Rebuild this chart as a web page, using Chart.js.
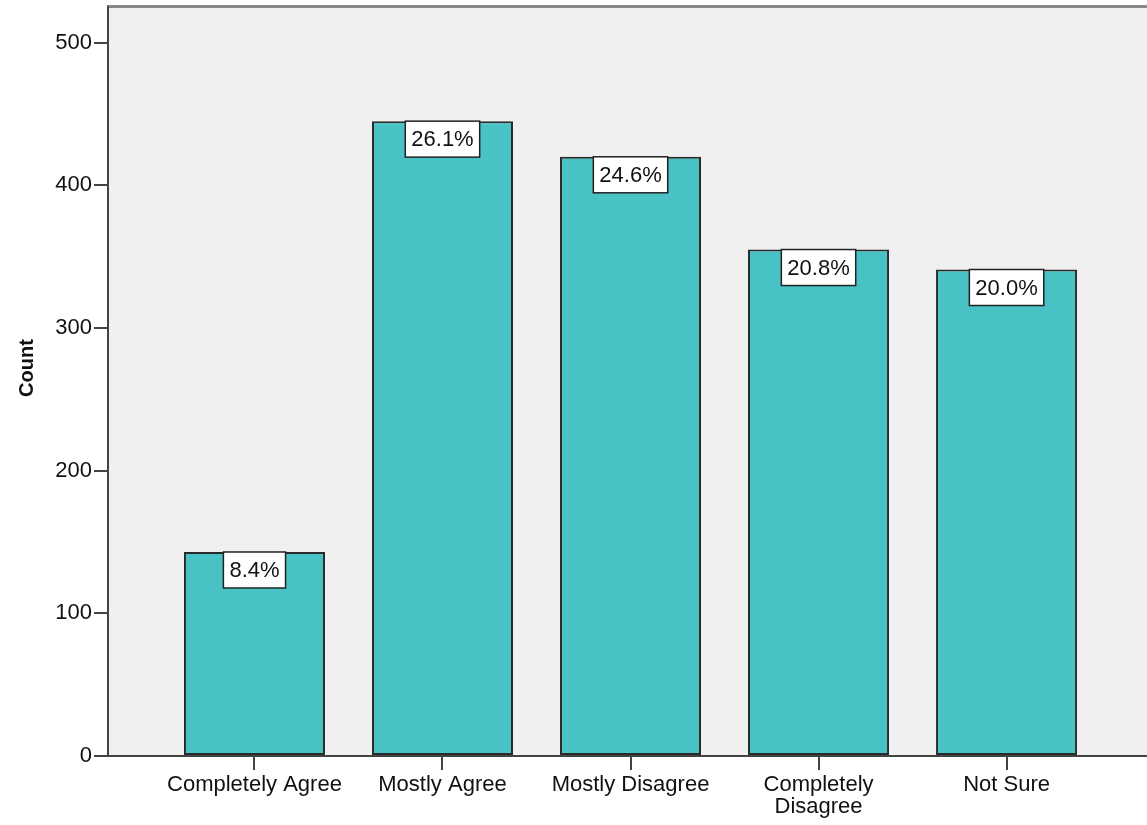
<!DOCTYPE html>
<html>
<head>
<meta charset="utf-8">
<script src="https://cdn.jsdelivr.net/npm/chart.js@4/dist/chart.umd.min.js"></script>
<style>
  html, body { margin: 0; padding: 0; background: #ffffff; }
  #wrap { width: 1147px; height: 825px; }
</style>
</head>
<body>
<div id="wrap"><canvas id="countChart" width="1147" height="825"></canvas></div>
<script>
const categories = ['Completely Agree', 'Mostly Agree', 'Mostly Disagree', ['Completely', 'Disagree'], 'Not Sure'];
const counts = [143, 445, 420, 355, 341];
const percentLabels = ['8.4%', '26.1%', '24.6%', '20.8%', '20.0%'];
const yTicks = [0, 100, 200, 300, 400, 500];
const yTitle = 'Count';

const fontFamily = '"Liberation Sans", Arial, sans-serif';
const barColor = '#48c2c5';

// grey plot background, the thick top edge and the axis title
const plotBackground = {
  id: 'plotBackground',
  beforeDraw(chart) {
    const { ctx, chartArea } = chart;
    ctx.save();
    ctx.fillStyle = '#f0f0f0';
    ctx.fillRect(chartArea.left, chartArea.top, chartArea.right - chartArea.left, chartArea.bottom - chartArea.top);
    ctx.strokeStyle = '#888888';
    ctx.lineWidth = 3;
    ctx.beginPath();
    ctx.moveTo(chartArea.left - 1, chartArea.top - 0.5);
    ctx.lineTo(chartArea.right, chartArea.top - 0.5);
    ctx.stroke();

    // y title sits a bit above the middle of the axis
    ctx.translate(27, 368);
    ctx.rotate(-Math.PI / 2);
    ctx.font = 'bold 20px ' + fontFamily;
    ctx.fillStyle = '#111111';
    ctx.textAlign = 'center';
    ctx.textBaseline = 'middle';
    ctx.fillText(yTitle, 0, 0);
    ctx.restore();
  }
};

// white boxed percentages hanging from the top of each bar
const percentBoxes = {
  id: 'percentBoxes',
  afterDatasetsDraw(chart) {
    const ctx = chart.ctx;
    const meta = chart.getDatasetMeta(0);
    ctx.save();
    ctx.font = '22px ' + fontFamily;
    ctx.textAlign = 'center';
    ctx.textBaseline = 'middle';
    meta.data.forEach((bar, i) => {
      const text = percentLabels[i];
      const w = ctx.measureText(text).width + 12;
      const h = 36;
      const x = bar.x - w / 2;
      const y = bar.y;
      ctx.fillStyle = '#ffffff';
      ctx.fillRect(x, y, w, h);
      ctx.strokeStyle = '#222222';
      ctx.lineWidth = 1.5;
      ctx.strokeRect(x, y, w, h);
      ctx.fillStyle = '#111111';
      ctx.fillText(text, bar.x, y + h / 2 + 1);
    });
    ctx.restore();
  }
};

const ctx = document.getElementById('countChart').getContext('2d');

let countChart = new Chart(ctx, {
  type: 'bar',
  data: {
    datasets: [{
      label: 'Count',
      data: counts.map((c, i) => ({ x: i, y: c })),
      backgroundColor: barColor,
      borderColor: '#2a2a2a',
      borderWidth: 2,
      borderSkipped: false,
      barPercentage: 0.75,
      categoryPercentage: 1.0
    }]
  },
  options: {
    responsive: false,
    animation: false,
    layout: { padding: { top: 7, right: 0, left: 0, bottom: 0 } },
    plugins: {
      legend: { display: false },
      tooltip: { enabled: false }
    },
    scales: {
      x: {
        type: 'linear',
        offset: false,
        min: -0.779,
        max: 4.747,
        afterBuildTicks: scale => {
          scale.ticks = categories.map((c, i) => ({ value: i }));
        },
        afterFit: scale => {
          scale.height = 69;
          scale.paddingLeft = 0;
          scale.paddingRight = 0;
        },
        ticks: {
          callback: value => categories[value],
          color: '#111111',
          font: { family: fontFamily, size: 22, lineHeight: 1.0 },
          padding: 4,
          maxRotation: 0,
          autoSkip: false
        },
        grid: {
          offset: false,
          drawOnChartArea: false,
          drawTicks: true,
          tickLength: 14,
          color: '#444444',
          lineWidth: 2
        },
        border: { color: '#444444', width: 2 }
      },
      y: {
        min: 0,
        max: 525,
        afterBuildTicks: scale => {
          scale.ticks = yTicks.map(v => ({ value: v }));
        },
        afterFit: scale => {
          scale.width = 108;
          scale.paddingTop = 0;
          scale.paddingBottom = 0;
        },
        ticks: {
          color: '#111111',
          font: { family: fontFamily, size: 22 },
          padding: 2
        },
        grid: {
          drawOnChartArea: false,
          drawTicks: true,
          tickLength: 14,
          color: '#444444',
          lineWidth: 2
        },
        border: { color: '#444444', width: 2 }
      }
    }
  },
  plugins: [plotBackground, percentBoxes]
});
</script>
</body>
</html>
